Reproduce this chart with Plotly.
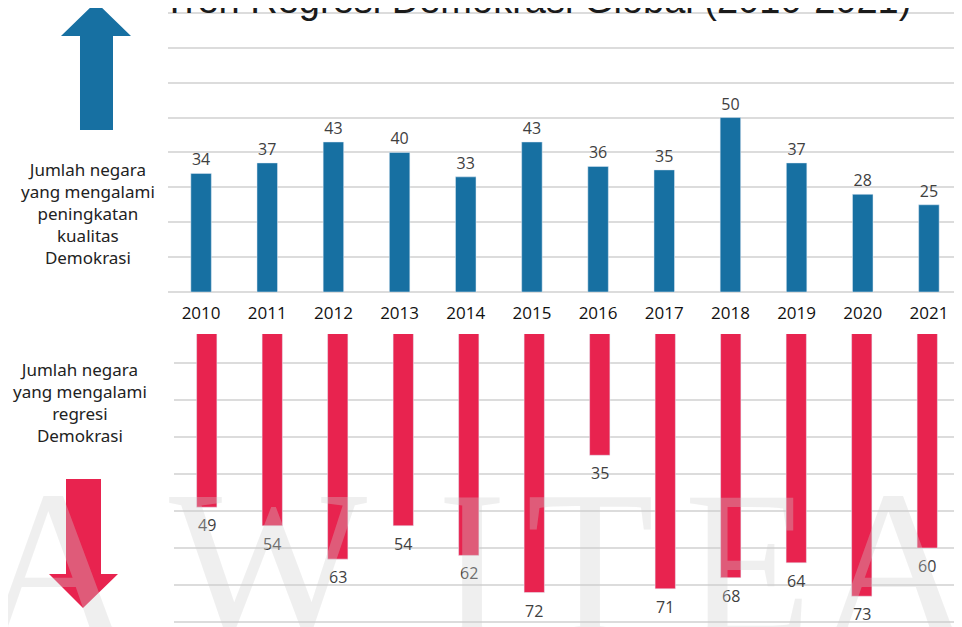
import plotly.graph_objects as go

years = ["2010", "2011", "2012", "2013", "2014", "2015", "2016", "2017", "2018", "2019", "2020", "2021"]
naik = [34, 37, 43, 40, 33, 43, 36, 35, 50, 37, 28, 25]
regresi = [49, 54, 63, 54, 62, 72, 35, 71, 68, 64, 73, 60]

title = "Tren Regresi Demokrasi Global (2010-2021)"
label_naik = "Jumlah negara<br>yang mengalami<br>peningkatan<br>kualitas<br>Demokrasi"
label_regresi = "Jumlah negara<br>yang mengalami<br>regresi<br>Demokrasi"
watermark = "AWITEA"

# page is 962x627 but the body has an 8px margin, so the figure is a bit smaller
OFF = 8
W, H = 962 - OFF, 627 - OFF
BLUE = "#1770a2"
RED = "#e8234f"
GRID = "#dcdcdc"
NUMFONT = dict(family="Open Sans", size=16, color="#404040")


def px(x):
    # page pixel -> paper x
    return (x - OFF) / W


def py(y):
    # page pixel -> paper y
    return 1 - (y - OFF) / H


fig = go.Figure()
fig.add_trace(go.Bar(x=years, y=naik, marker_color=BLUE, text=naik, textposition="outside",
                     textfont=NUMFONT, cliponaxis=False, xaxis="x", yaxis="y"))
fig.add_trace(go.Bar(x=years, y=regresi, marker_color=RED, xaxis="x2", yaxis="y2"))

# arrows
up = [(96, 2), (131, 36), (113, 36), (113, 130), (80, 130), (80, 36), (61, 36)]
down = [(83, 608), (118, 574), (101, 574), (101, 479), (66, 479), (66, 574), (49, 574)]
shapes = []
for pts, col in [(up, BLUE), (down, RED)]:
    path = "M " + " L ".join(f"{px(a):.5f},{py(b):.5f}" for a, b in pts) + " Z"
    shapes.append(dict(type="path", xref="paper", yref="paper", path=path,
                       fillcolor=col, line=dict(width=0), layer="above"))

annotations = [
    dict(text=title, x=px(161), y=py(23), xref="paper", yref="paper", xanchor="left", yanchor="bottom",
         showarrow=False, font=dict(family="Liberation Sans", size=38, color="#1a1a1a")),
    dict(text=label_naik, x=px(88), y=py(213), xref="paper", yref="paper", showarrow=False,
         xanchor="center", yanchor="middle", align="center",
         font=dict(family="Noto Sans", size=17, color="#222222")),
    dict(text=label_regresi, x=px(80), y=py(402), xref="paper", yref="paper", showarrow=False,
         xanchor="center", yanchor="middle", align="center",
         font=dict(family="Noto Sans", size=17, color="#222222")),
]
# value labels under the red bars (category index on x2)
for i, v in enumerate(regresi):
    annotations.append(dict(text=str(v), x=i, y=v, xref="x2", yref="y2", showarrow=False,
                            xanchor="center", yanchor="middle", yshift=-18, font=NUMFONT))
# faint watermark letters
for ch, xc in zip(watermark, [55, 268, 472, 590, 748, 895]):
    annotations.append(dict(text=ch, x=px(xc), y=py(446), xref="paper", yref="paper",
                            xanchor="center", yanchor="top", showarrow=False,
                            font=dict(family="Liberation Serif", size=210, color="rgba(205,205,205,0.33)")))

fig.update_layout(
    width=W, height=H, autosize=False,
    margin=dict(t=0, b=0, l=0, r=0),
    paper_bgcolor="white", plot_bgcolor="white",
    showlegend=False, bargap=0.69,
    shapes=shapes, annotations=annotations,
    xaxis=dict(domain=[px(168), 1], anchor="y", type="category", range=[-0.5, 11.5],
               showgrid=False, showline=False, ticks="outside", ticklen=6, tickcolor="rgba(0,0,0,0)",
               tickfont=dict(family="Open Sans", size=17, color="#111111")),
    yaxis=dict(domain=[py(292), 1], anchor="x", range=[0, 81.4], dtick=10,
               showgrid=True, gridcolor=GRID, gridwidth=1.5, zeroline=True, zerolinecolor=GRID,
               zerolinewidth=1.5, showticklabels=False),
    xaxis2=dict(domain=[px(174), px(960)], anchor="y2", type="category", range=[-0.5, 11.5],
                showgrid=False, showline=False, showticklabels=False),
    yaxis2=dict(domain=[0, py(334)], anchor="x2", range=[81.3, 2.3], dtick=10,
                showgrid=True, gridcolor=GRID, gridwidth=1.5, zeroline=False, showticklabels=False),
)

fig.write_html("out.html")
